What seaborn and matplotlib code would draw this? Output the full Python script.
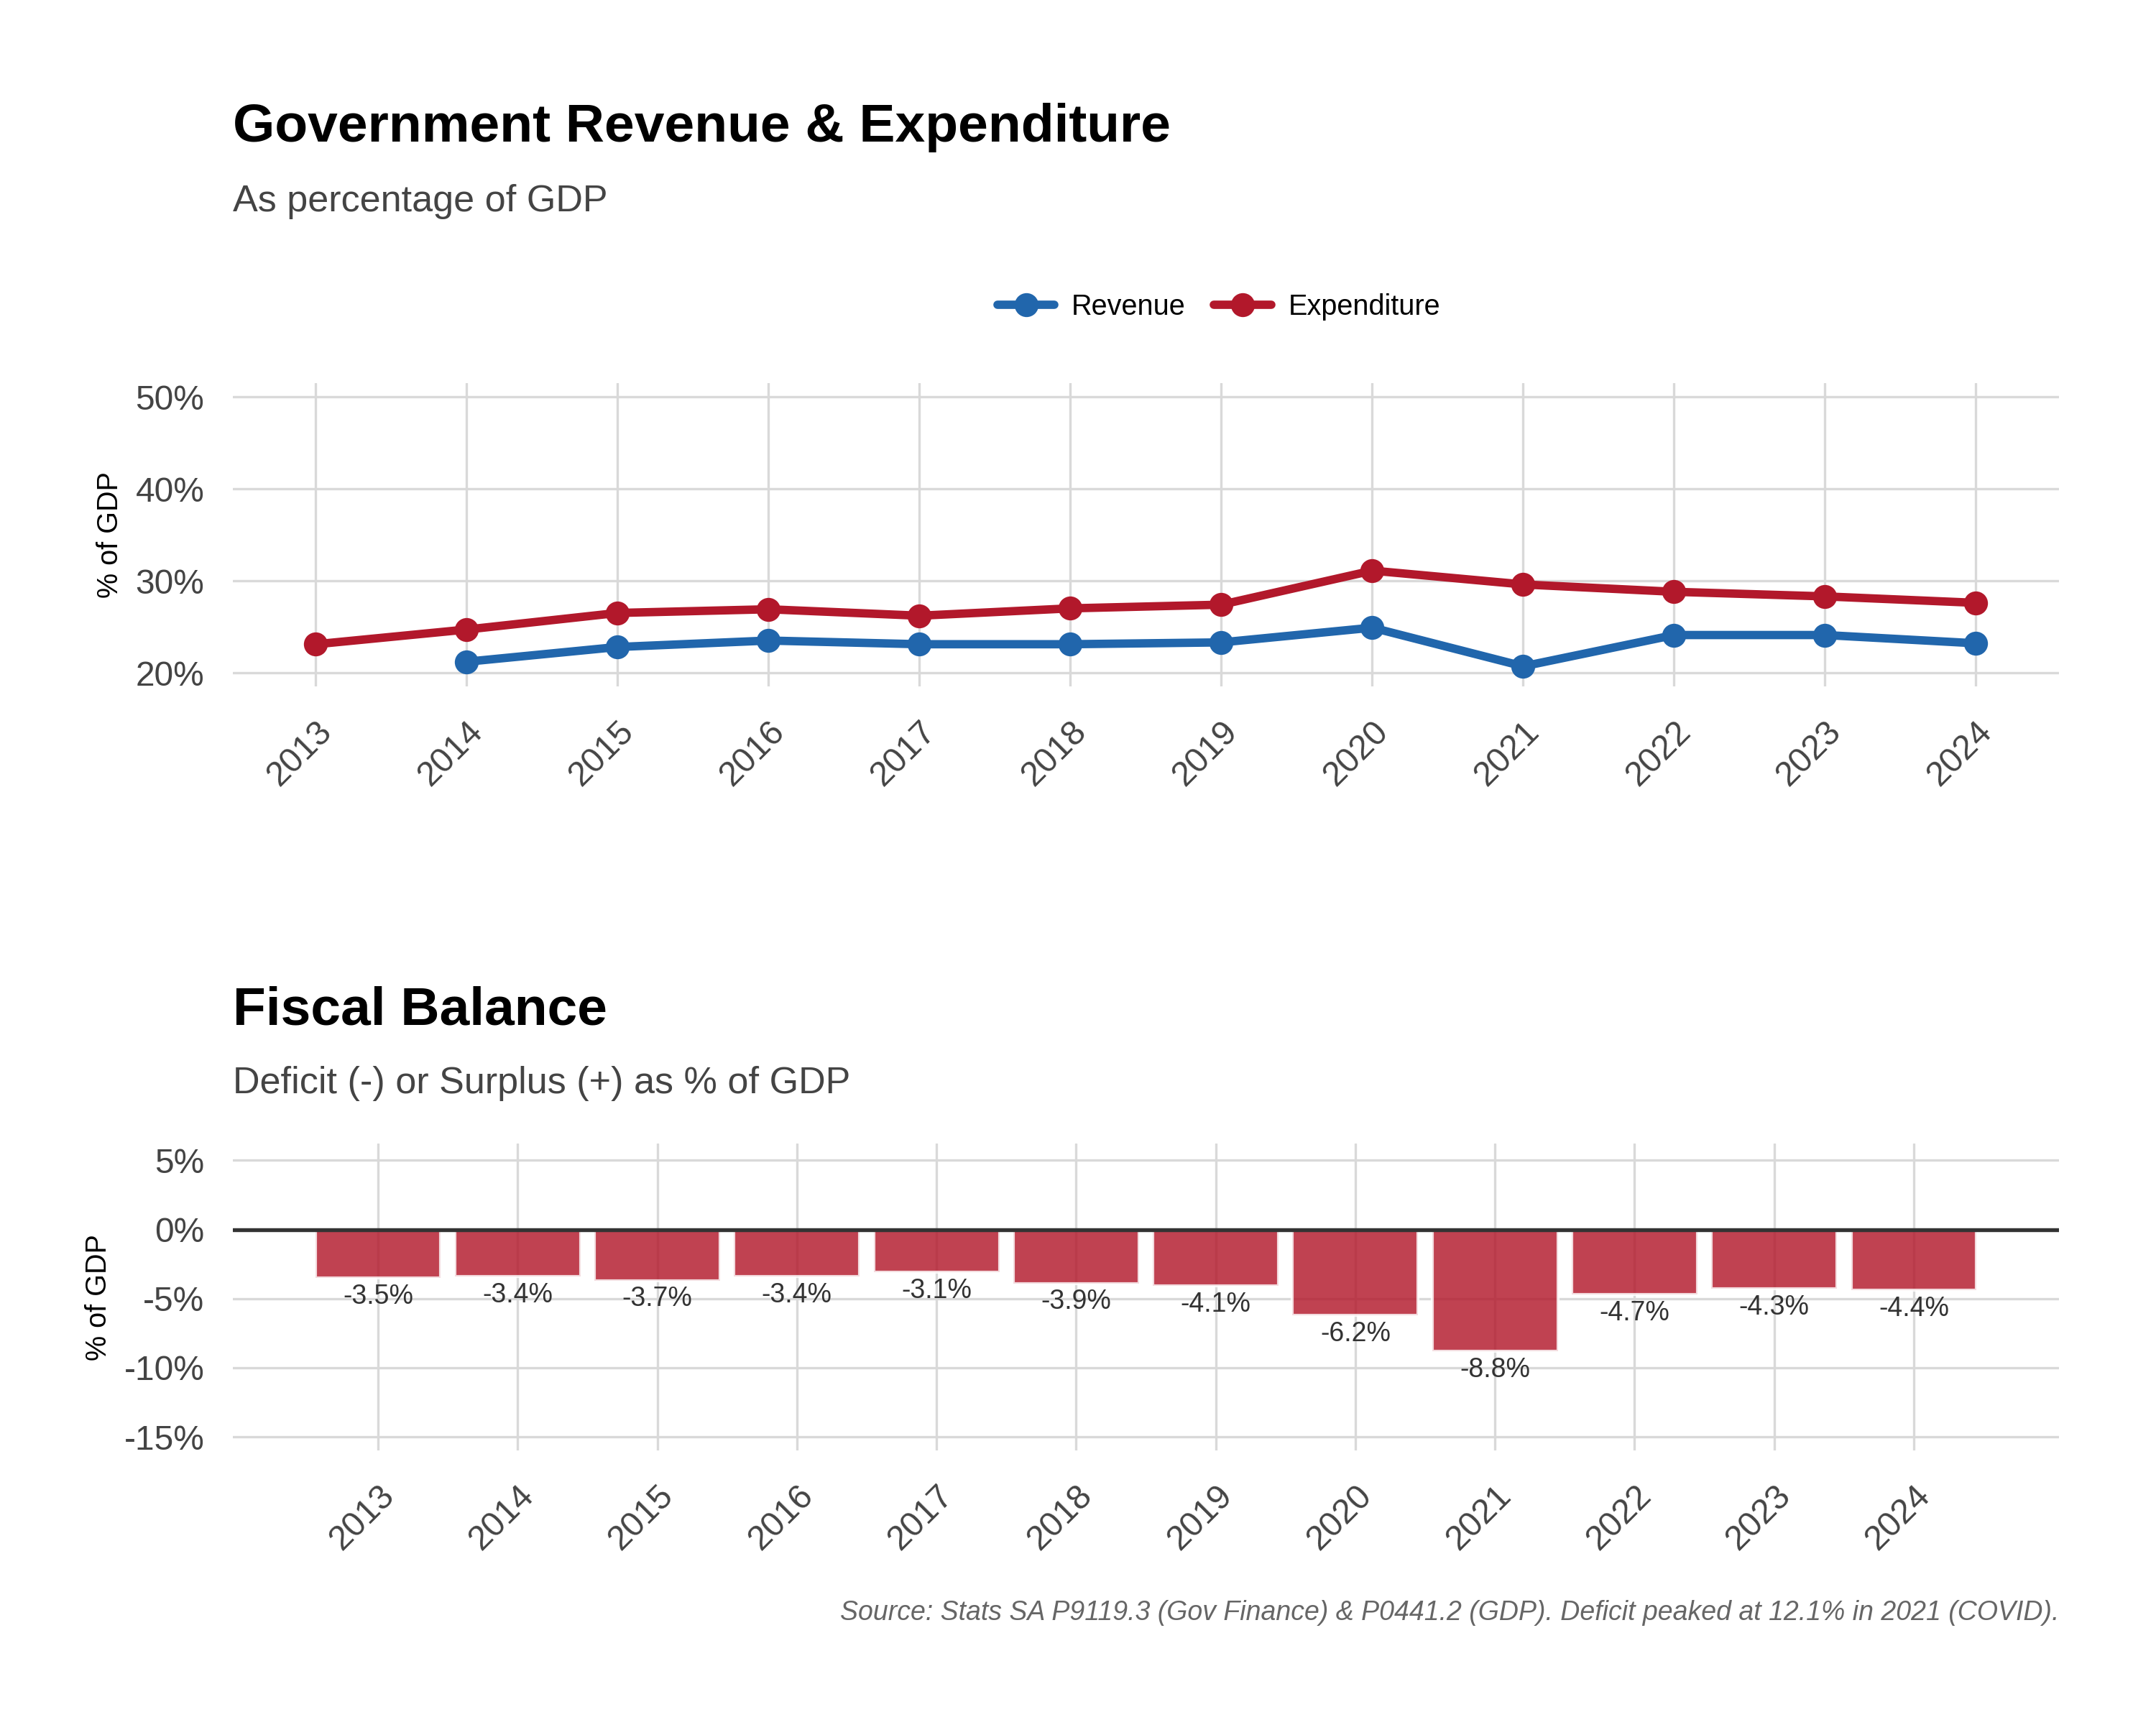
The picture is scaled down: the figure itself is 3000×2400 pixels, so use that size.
import numpy as np
import pandas as pd
import matplotlib
matplotlib.use("Agg")
import matplotlib.pyplot as plt
import seaborn as sns

years = [2013, 2014, 2015, 2016, 2017, 2018, 2019, 2020, 2021, 2022, 2023, 2024]
revenue = [np.nan, 21.2, 22.8, 23.5, 23.1, 23.1, 23.3, 24.9, 20.7, 24.1, 24.1, 23.2]
expenditure = [23.1, 24.7, 26.5, 26.9, 26.2, 27.0, 27.4, 31.1, 29.6, 28.8, 28.3, 27.6]
balance = [-3.5, -3.4, -3.7, -3.4, -3.1, -3.9, -4.1, -6.2, -8.8, -4.7, -4.3, -4.4]

BLUE = "#2166ac"
RED = "#b2182b"

sns.set_theme(style="whitegrid")
plt.rcParams['font.family'] = ['Arial', 'Liberation Sans', 'DejaVu Sans']

fig = plt.figure(figsize=(10, 8), dpi=300)
ax1 = fig.add_axes([0.108, 0.602, 0.847, 0.176])
ax2 = fig.add_axes([0.108, 0.159, 0.847, 0.178])

lines = pd.DataFrame({"year": years * 2,
                      "value": revenue + expenditure,
                      "series": ["Revenue"] * 12 + ["Expenditure"] * 12})
sns.lineplot(data=lines, x="year", y="value", hue="series",
             palette={"Revenue": BLUE, "Expenditure": RED},
             marker="o", markersize=8, markeredgewidth=0, linewidth=2.8, ax=ax1)
ax1.set_xlim(2012.45, 2024.55)
ax1.set_ylim(18.5, 51.5)
ax1.set_xticks(years)
ax1.set_yticks([20, 30, 40, 50])
ax1.set_yticklabels([f"{v}%" for v in [20, 30, 40, 50]])
ax1.set_xlabel("")
ax1.set_ylabel("% of GDP", fontsize=9.5, color="black")
ax1.tick_params(axis="x", rotation=45, labelsize=11.5, colors="#444444")
ax1.tick_params(axis="y", labelsize=11.5, colors="#444444")
for lab in ax1.get_xticklabels():
    lab.set_ha("right"); lab.set_rotation_mode("anchor")
leg = ax1.legend(title=None, loc="center", bbox_to_anchor=(0.54, 1.25), ncol=2,
                 frameon=False, fontsize=9.5, handlelength=2, columnspacing=1.0,
                 handletextpad=0.6)
for t in leg.get_texts():
    t.set_color("black")

bal = pd.DataFrame({"year": [str(y) for y in years], "balance": balance})
sns.barplot(data=bal, x="year", y="balance", color=RED, alpha=0.82,
            width=0.9, saturation=1, ax=ax2)
ax2.axhline(0, color="#333333", linewidth=1.3)
for i, v in enumerate(balance):
    ax2.text(i, v - 0.4, f"{v:.1f}%", ha="center", va="top", fontsize=9, color="#333333")
ax2.set_xlim(-1.04, 12.04)
ax2.set_ylim(-16, 6.2)
ax2.set_yticks([5, 0, -5, -10, -15])
ax2.set_yticklabels([f"{v}%" for v in [5, 0, -5, -10, -15]])
ax2.set_xlabel("")
ax2.set_ylabel("% of GDP", fontsize=9.5, color="black")
ax2.tick_params(axis="x", rotation=45, labelsize=11.5, colors="#444444")
ax2.tick_params(axis="y", labelsize=11.5, colors="#444444")
for lab in ax2.get_xticklabels():
    lab.set_ha("right"); lab.set_rotation_mode("anchor")

for ax in (ax1, ax2):
    for s in ax.spines.values():
        s.set_visible(False)
    ax.grid(True, color="#d9d9d9", linewidth=0.8)
    ax.set_axisbelow(True)

fig.text(0.108, 0.926, "Government Revenue & Expenditure", fontsize=18, fontweight="bold", va="center", color="black")
fig.text(0.108, 0.883, "As percentage of GDP", fontsize=12.5, color="#444444", va="center")
fig.text(0.108, 0.414, "Fiscal Balance", fontsize=18, fontweight="bold", va="center", color="black")
fig.text(0.108, 0.372, "Deficit (-) or Surplus (+) as % of GDP", fontsize=12.5, color="#444444", va="center")
fig.text(0.955, 0.065, "Source: Stats SA P9119.3 (Gov Finance) & P0441.2 (GDP). Deficit peaked at 12.1% in 2021 (COVID).",
         fontsize=9, style="italic", color="#666666", ha="right", va="center")

fig.savefig("out.png", dpi=300, facecolor="white")
